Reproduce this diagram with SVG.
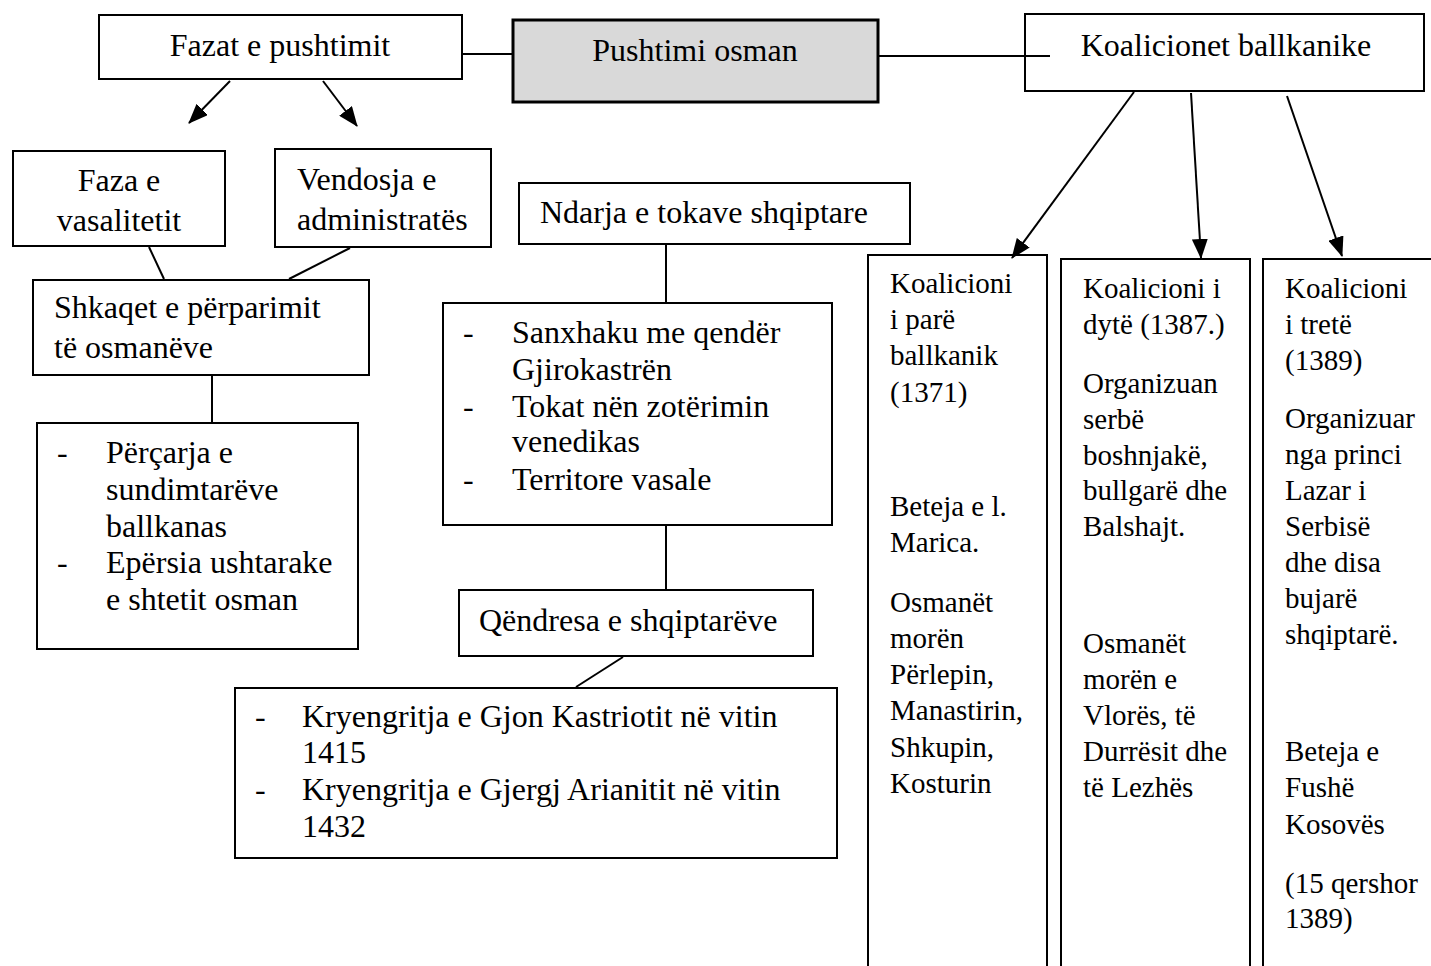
<svg xmlns="http://www.w3.org/2000/svg" width="1431" height="966" viewBox="0 0 1431 966">
<defs>
<style>
.box{fill:#fff;stroke:#000;stroke-width:2}
.main{fill:#d9d9d9;stroke:#000;stroke-width:3}
.t{font-family:"Liberation Serif","Times New Roman",serif;font-size:32px;fill:#000}
.c{font-family:"Liberation Serif","Times New Roman",serif;font-size:29px;fill:#000}
.mid{text-anchor:middle}
.ln{stroke:#000;stroke-width:2;fill:none}
.ar{stroke:#000;stroke-width:2;fill:none;marker-end:url(#ah)}
</style>
<marker id="ah" viewBox="0 0 20 16" markerWidth="20" markerHeight="16" refX="19" refY="8" orient="auto" markerUnits="userSpaceOnUse">
<path d="M0,0 L20,8 L0,16 Z" fill="#000"/>
</marker>
</defs>
<rect width="1431" height="966" fill="#fff"/>

<g id="fazat">
<rect class="box" x="99" y="15" width="363" height="64"/>
<text class="t mid" x="280" y="56">Fazat e pushtimit</text>
</g>

<g id="pushtimi">
<rect class="main" x="513" y="20" width="365" height="82"/>
<text class="t mid" x="695" y="61">Pushtimi osman</text>
</g>

<g id="koalicionet">
<rect class="box" x="1025" y="14" width="399" height="77"/>
<text class="t mid" x="1226" y="56">Koalicionet ballkanike</text>
</g>

<g id="faza">
<rect class="box" x="13" y="151" width="212" height="95"/>
<text class="t mid" x="119" y="191">Faza e</text>
<text class="t mid" x="119" y="231">vasalitetit</text>
</g>

<g id="vendosja">
<rect class="box" x="275" y="149" width="216" height="98"/>
<text class="t" x="297" y="190">Vendosja e</text>
<text class="t" x="297" y="230">administratës</text>
</g>

<g id="shkaqet">
<rect class="box" x="33" y="280" width="336" height="95"/>
<text class="t" x="54" y="318">Shkaqet e përparimit</text>
<text class="t" x="54" y="358">të osmanëve</text>
</g>

<g id="shkaqet-list">
<rect class="box" x="37" y="423" width="321" height="226"/>
<text class="t" x="57" y="463">-</text>
<text class="t" x="106" y="463">Përçarja e</text>
<text class="t" x="106" y="500">sundimtarëve</text>
<text class="t" x="106" y="537">ballkanas</text>
<text class="t" x="57" y="573">-</text>
<text class="t" x="106" y="573">Epërsia ushtarake</text>
<text class="t" x="106" y="610">e shtetit osman</text>
</g>

<g id="ndarja">
<rect class="box" x="519" y="183" width="391" height="61"/>
<text class="t" x="540" y="223">Ndarja e tokave shqiptare</text>
</g>

<g id="ndarja-list">
<rect class="box" x="443" y="303" width="389" height="222"/>
<text class="t" x="463" y="343">-</text>
<text class="t" x="512" y="343">Sanxhaku me qendër</text>
<text class="t" x="512" y="380">Gjirokastrën</text>
<text class="t" x="463" y="417">-</text>
<text class="t" x="512" y="417">Tokat nën zotërimin</text>
<text class="t" x="512" y="452">venedikas</text>
<text class="t" x="463" y="490">-</text>
<text class="t" x="512" y="490">Territore vasale</text>
</g>

<g id="qendresa">
<rect class="box" x="459" y="590" width="354" height="66"/>
<text class="t" x="479" y="631">Qëndresa e shqiptarëve</text>
</g>

<g id="kryengritja">
<rect class="box" x="235" y="688" width="602" height="170"/>
<text class="t" x="255" y="727">-</text>
<text class="t" x="302" y="727">Kryengritja e Gjon Kastriotit në vitin</text>
<text class="t" x="302" y="763">1415</text>
<text class="t" x="255" y="800">-</text>
<text class="t" x="302" y="800">Kryengritja e Gjergj Arianitit në vitin</text>
<text class="t" x="302" y="837">1432</text>
</g>

<g id="koalicioni-1">
<rect class="box" x="868" y="255" width="179" height="800"/>
<text class="c" x="890" y="293">Koalicioni</text>
<text class="c" x="890" y="329">i parë</text>
<text class="c" x="890" y="365">ballkanik</text>
<text class="c" x="890" y="402">(1371)</text>
<text class="c" x="890" y="516">Beteja e l.</text>
<text class="c" x="890" y="552">Marica.</text>
<text class="c" x="890" y="612">Osmanët</text>
<text class="c" x="890" y="648">morën</text>
<text class="c" x="890" y="684">Përlepin,</text>
<text class="c" x="890" y="720">Manastirin,</text>
<text class="c" x="890" y="757">Shkupin,</text>
<text class="c" x="890" y="793">Kosturin</text>
</g>

<g id="koalicioni-2">
<rect class="box" x="1061" y="259" width="189" height="800"/>
<text class="c" x="1083" y="298">Koalicioni i</text>
<text class="c" x="1083" y="334">dytë (1387.)</text>
<text class="c" x="1083" y="393">Organizuan</text>
<text class="c" x="1083" y="429">serbë</text>
<text class="c" x="1083" y="465">boshnjakë,</text>
<text class="c" x="1083" y="500">bullgarë dhe</text>
<text class="c" x="1083" y="536">Balshajt.</text>
<text class="c" x="1083" y="653">Osmanët</text>
<text class="c" x="1083" y="689">morën e</text>
<text class="c" x="1083" y="725">Vlorës, të</text>
<text class="c" x="1083" y="761">Durrësit dhe</text>
<text class="c" x="1083" y="797">të Lezhës</text>
</g>

<g id="koalicioni-3">
<rect class="box" x="1263" y="259" width="220" height="800"/>
<text class="c" x="1285" y="298">Koalicioni</text>
<text class="c" x="1285" y="334">i tretë</text>
<text class="c" x="1285" y="370">(1389)</text>
<text class="c" x="1285" y="428">Organizuar</text>
<text class="c" x="1285" y="464">nga princi</text>
<text class="c" x="1285" y="500">Lazar i</text>
<text class="c" x="1285" y="536">Serbisë</text>
<text class="c" x="1285" y="572">dhe disa</text>
<text class="c" x="1285" y="608">bujarë</text>
<text class="c" x="1285" y="644">shqiptarë.</text>
<text class="c" x="1285" y="761">Beteja e</text>
<text class="c" x="1285" y="797">Fushë</text>
<text class="c" x="1285" y="834">Kosovës</text>
<text class="c" x="1285" y="893">(15 qershor</text>
<text class="c" x="1285" y="928">1389)</text>
</g>

<g id="connectors">
<line class="ln" x1="462" y1="54" x2="512" y2="54"/>
<line class="ln" x1="879" y1="56" x2="1050" y2="56"/>
<line class="ar" x1="230" y1="81" x2="189" y2="123"/>
<line class="ar" x1="323" y1="81" x2="357" y2="126"/>
<line class="ln" x1="149" y1="247" x2="164" y2="279"/>
<line class="ln" x1="350" y1="248" x2="289" y2="279"/>
<line class="ln" x1="212" y1="376" x2="212" y2="422"/>
<line class="ln" x1="666" y1="245" x2="666" y2="302"/>
<line class="ln" x1="666" y1="526" x2="666" y2="589"/>
<line class="ln" x1="623" y1="657" x2="576" y2="687"/>
<line class="ar" x1="1134" y1="92" x2="1012" y2="258"/>
<line class="ar" x1="1191" y1="93" x2="1201" y2="258"/>
<line class="ar" x1="1287" y1="96" x2="1342" y2="256"/>
</g>
</svg>
